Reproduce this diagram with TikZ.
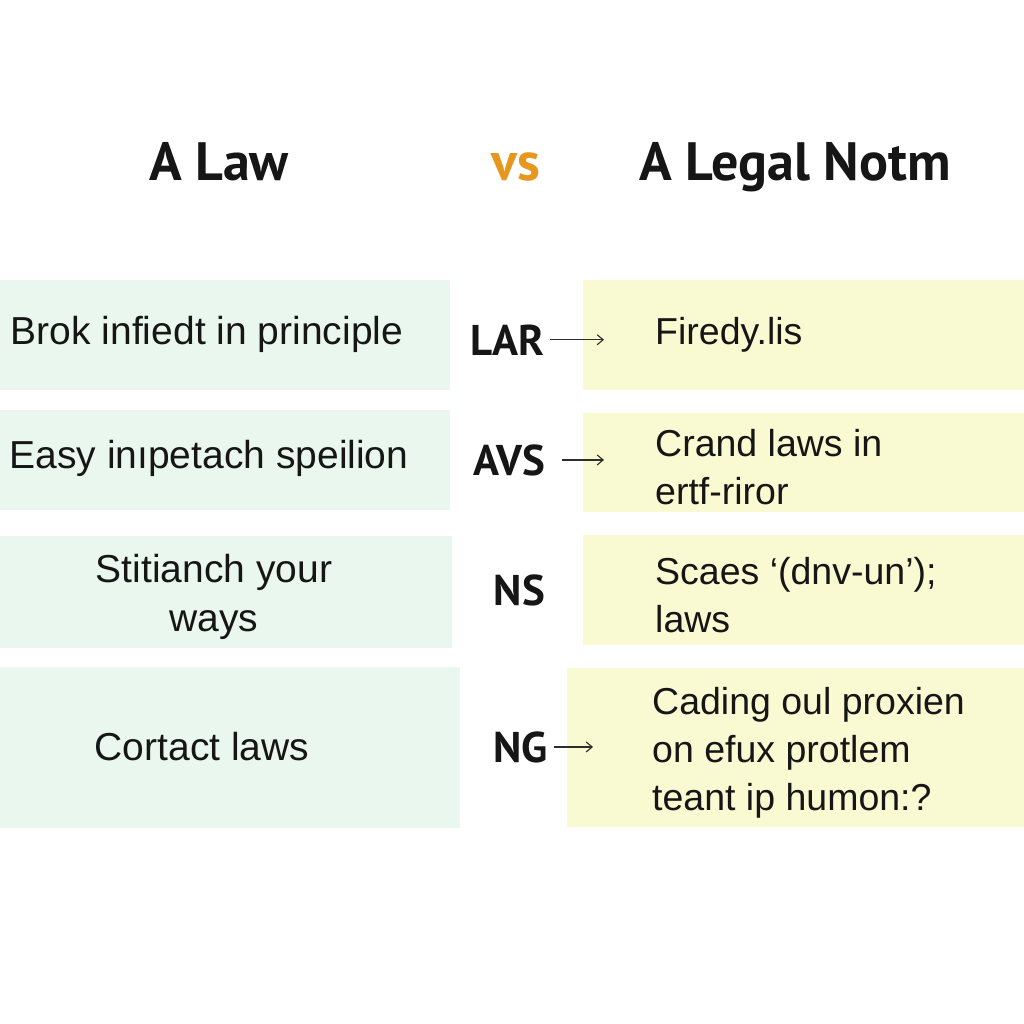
\documentclass[tikz,border=0pt]{standalone}
\usepackage{fontspec}
\setmainfont{Liberation Sans}
\newfontfamily\ptsans{PT Sans}
\usetikzlibrary{arrows.meta}
\definecolor{boxgreen}{HTML}{EAF7EE}
\definecolor{boxyellow}{HTML}{F9F9D2}
\definecolor{vsorange}{HTML}{E8971E}
\definecolor{ink}{HTML}{161616}
\begin{document}
\begin{tikzpicture}[x=1pt,y=-1pt,
  gbox/.style={fill=boxgreen, draw=none, inner sep=0pt, anchor=north west},
  ybox/.style={fill=boxyellow, draw=none, inner sep=0pt, anchor=north west},
  bodytxt/.style={text=ink, inner sep=0pt},
  lefttxt/.style={bodytxt, align=center, anchor=base, font=\fontsize{39}{49}\selectfont},
  righttxt/.style={bodytxt, align=left, anchor=base west, font=\fontsize{37.5}{48}\selectfont},
  midlabel/.style={text=ink, inner sep=0pt, anchor=base east, font=\ptsans\bfseries\fontsize{43}{48}\selectfont},
  titletxt/.style={text=ink, inner sep=0pt, anchor=base, font=\ptsans\bfseries\fontsize{54}{60}\selectfont},
  arr/.style={draw=ink!90, line width=1.1pt, -{Straight Barb[length=6pt,width=10pt,line width=1.1pt]}}
]
\useasboundingbox[fill=white] (0,0) rectangle (1024,1024);

% titles
\node[titletxt] (law) at (219,181) {A Law};
\node[titletxt, text=vsorange] (vs) at (516,181) {vs};
\node[titletxt] (norm) at (795,181) {A Legal Notm};

% boxes
\node[gbox, minimum width=450pt, minimum height=110pt] (l1) at (0,280) {};
\node[ybox, minimum width=441pt, minimum height=110pt] (r1) at (583,280) {};
\node[gbox, minimum width=450pt, minimum height=100pt] (l2) at (0,410) {};
\node[ybox, minimum width=441pt, minimum height=99pt] (r2) at (583,413) {};
\node[gbox, minimum width=452pt, minimum height=112pt] (l3) at (0,536) {};
\node[ybox, minimum width=441pt, minimum height=110pt] (r3) at (583,535) {};
\node[gbox, minimum width=460pt, minimum height=161pt] (l4) at (0,667) {};
\node[ybox, minimum width=457pt, minimum height=159pt] (r4) at (567,668) {};

% left texts (base = last line)
\node[lefttxt] (t1) at (207,344) {Brok infiedt in principle};
\node[lefttxt] (t2) at (209,468) {Easy inıpetach speilion};
\node[lefttxt] (t3) at (214,631) {Stitianch your\\ways};
\node[lefttxt] (t4) at (202,760) {Cortact laws};

% right texts (base = last line)
\node[righttxt] (s1) at (655,344) {Firedy.lis};
\node[righttxt] (s2) at (655,504) {Crand laws in\\ertf-riror};
\node[righttxt] (s3) at (655,632) {Scaes ‘(dnv-un’);\\laws};
\node[righttxt] (s4) at (652,810) {Cading oul proxien\\on efux protlem\\teant ip humon:?};

% middle labels
\node[midlabel] (lar) at (545,355) {LAR};
\node[midlabel] (avs) at (545,475) {AVS};
\node[midlabel] (ns) at (545,605) {NS};
\node[midlabel] (ng) at (548,762) {NG};

% arrow ends
\coordinate (a1) at (604,342);
\coordinate (a2) at (604,460);
\coordinate (a4) at (593,748);
\draw[arr] ([xshift=5pt]lar.east) -- (lar.east -| a1);
\draw[arr] ([xshift=17pt]avs.east) -- (avs.east -| a2);
\draw[arr] ([xshift=6pt]ng.east) -- (ng.east -| a4);
\end{tikzpicture}
\end{document}
